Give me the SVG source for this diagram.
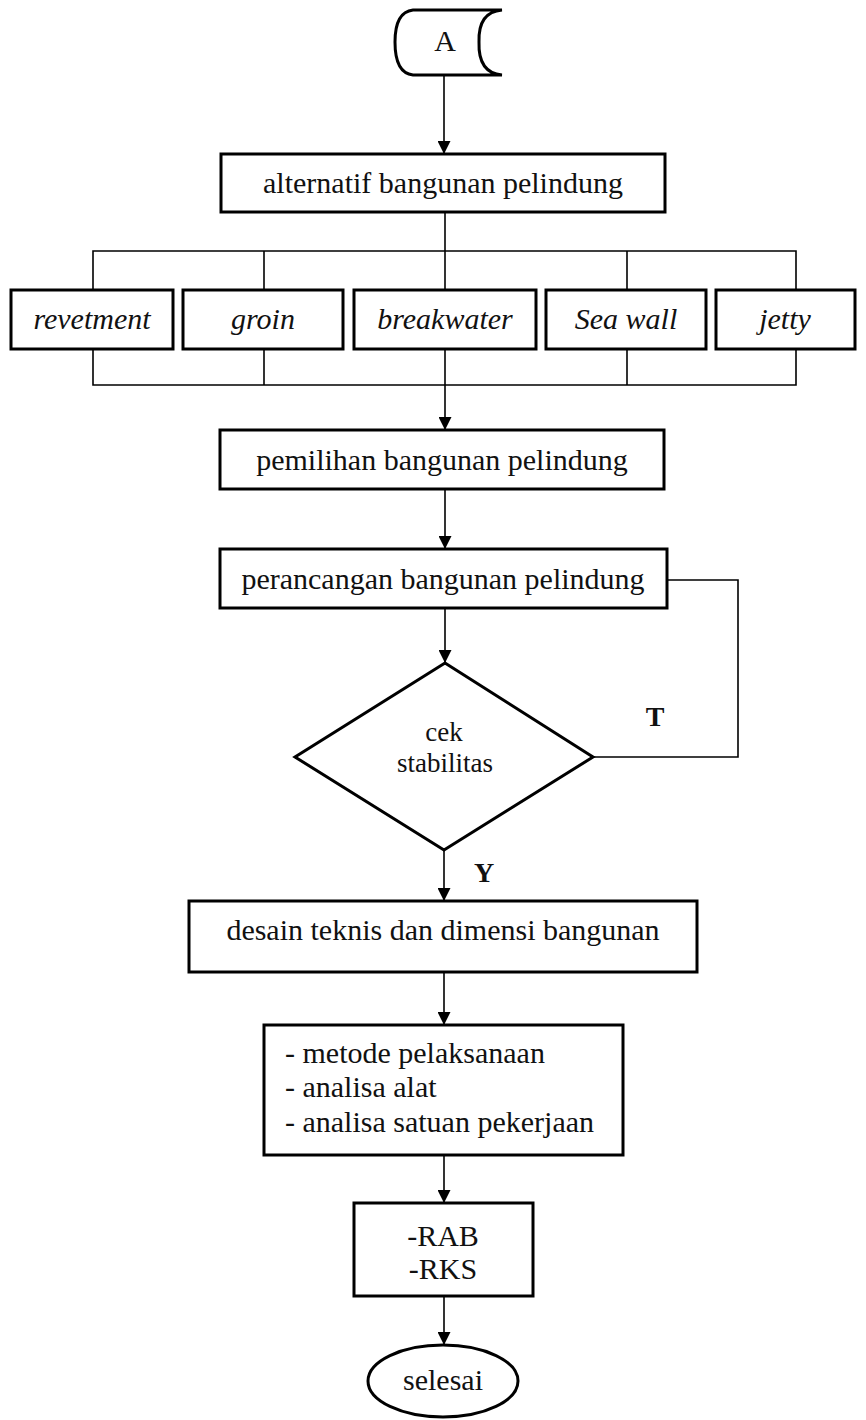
<svg xmlns="http://www.w3.org/2000/svg" width="866" height="1420" viewBox="0 0 866 1420">
<style>
.box{fill:#fff;stroke:#000;stroke-width:3}
.ln{fill:none;stroke:#000;stroke-width:1.6}
.t{font-family:"Liberation Serif","Times New Roman",serif;font-size:30px;fill:#111}
.c{text-anchor:middle}
.i{font-style:italic}
.b{font-weight:bold;font-size:28px}
.s{font-size:27px}
</style>
<defs>
<marker id="ah" viewBox="0 0 14 14" refX="14" refY="7" markerWidth="14" markerHeight="13" markerUnits="userSpaceOnUse" orient="auto">
<path d="M0,0 L14,7 L0,14 z" fill="#000"/>
</marker>
</defs>
<rect width="866" height="1420" fill="#fff"/>
<g id="connectors">
<line class="ln" x1="444" y1="75" x2="444" y2="154" marker-end="url(#ah)"/>
<line class="ln" x1="445" y1="212" x2="445" y2="290"/>
<polyline class="ln" points="93,290 93,251 796,251 796,290"/>
<line class="ln" x1="264" y1="251" x2="264" y2="290"/>
<line class="ln" x1="627" y1="251" x2="627" y2="290"/>
<polyline class="ln" points="93,349 93,385 796,385 796,349"/>
<line class="ln" x1="264" y1="349" x2="264" y2="385"/>
<line class="ln" x1="627" y1="349" x2="627" y2="385"/>
<line class="ln" x1="445" y1="349" x2="445" y2="430" marker-end="url(#ah)"/>
<line class="ln" x1="445" y1="489" x2="445" y2="549" marker-end="url(#ah)"/>
<line class="ln" x1="445" y1="608" x2="445" y2="663" marker-end="url(#ah)"/>
<polyline class="ln" points="593,757 738,757 738,580 667,580" stroke-width="2"/>
<line class="ln" x1="444" y1="850" x2="444" y2="901" marker-end="url(#ah)"/>
<line class="ln" x1="444" y1="972" x2="444" y2="1025" marker-end="url(#ah)"/>
<line class="ln" x1="444" y1="1155" x2="444" y2="1203" marker-end="url(#ah)"/>
<line class="ln" x1="444" y1="1296" x2="444" y2="1345" marker-end="url(#ah)"/>
<text class="t b" x="655" y="726" text-anchor="middle">T</text>
<text class="t b" x="484" y="882" text-anchor="middle">Y</text>
</g>
<g id="start">
<path d="M413,10 L502,10 Q478,12 479,42 Q478,73 502,75 L413,75 Q395,73 395,42 Q395,12 413,10 Z" fill="#fff" stroke="#000" stroke-width="3"/>
<text class="t c" x="445" y="51">A</text>
</g>
<g id="alternatif">
<rect class="box" x="221" y="154" width="444" height="58"/>
<text class="t c" x="443" y="193">alternatif bangunan pelindung</text>
</g>
<g id="revetment">
<rect class="box" x="11" y="290" width="162" height="59"/>
<text class="t c i" x="92" y="329">revetment</text>
</g>
<g id="groin">
<rect class="box" x="183" y="290" width="160" height="59"/>
<text class="t c i" x="263" y="329">groin</text>
</g>
<g id="breakwater">
<rect class="box" x="354" y="290" width="182" height="59"/>
<text class="t c i" x="445" y="329">breakwater</text>
</g>
<g id="seawall">
<rect class="box" x="546" y="290" width="160" height="59"/>
<text class="t c i" x="626" y="329">Sea wall</text>
</g>
<g id="jetty">
<rect class="box" x="716" y="290" width="139" height="59"/>
<text class="t c i" x="785" y="329">jetty</text>
</g>
<g id="pemilihan">
<rect class="box" x="220" y="430" width="444" height="59"/>
<text class="t c" x="442" y="470">pemilihan bangunan pelindung</text>
</g>
<g id="perancangan">
<rect class="box" x="220" y="549" width="447" height="59"/>
<text class="t c" x="443" y="589">perancangan bangunan pelindung</text>
</g>
<g id="cek">
<polygon points="445,663 593,757 444,850 295,757" fill="#fff" stroke="#000" stroke-width="3"/>
<text class="t c s" x="444" y="741">cek</text>
<text class="t c s" x="445" y="772">stabilitas</text>
</g>
<g id="desain">
<rect class="box" x="189" y="901" width="508" height="71"/>
<text class="t c" x="443" y="940">desain teknis dan dimensi bangunan</text>
</g>
<g id="metode">
<rect class="box" x="264" y="1025" width="359" height="130"/>
<text class="t" x="285" y="1063">- metode pelaksanaan</text>
<text class="t" x="285" y="1097">- analisa alat</text>
<text class="t" x="285" y="1132">- analisa satuan pekerjaan</text>
</g>
<g id="rab">
<rect class="box" x="354" y="1203" width="179" height="93"/>
<text class="t c" x="443" y="1246">-RAB</text>
<text class="t c" x="443" y="1279">-RKS</text>
</g>
<g id="selesai">
<ellipse cx="443" cy="1381" rx="75" ry="36" fill="#fff" stroke="#000" stroke-width="3"/>
<text class="t c" x="443" y="1390" font-size="25">selesai</text>
</g>
</svg>
